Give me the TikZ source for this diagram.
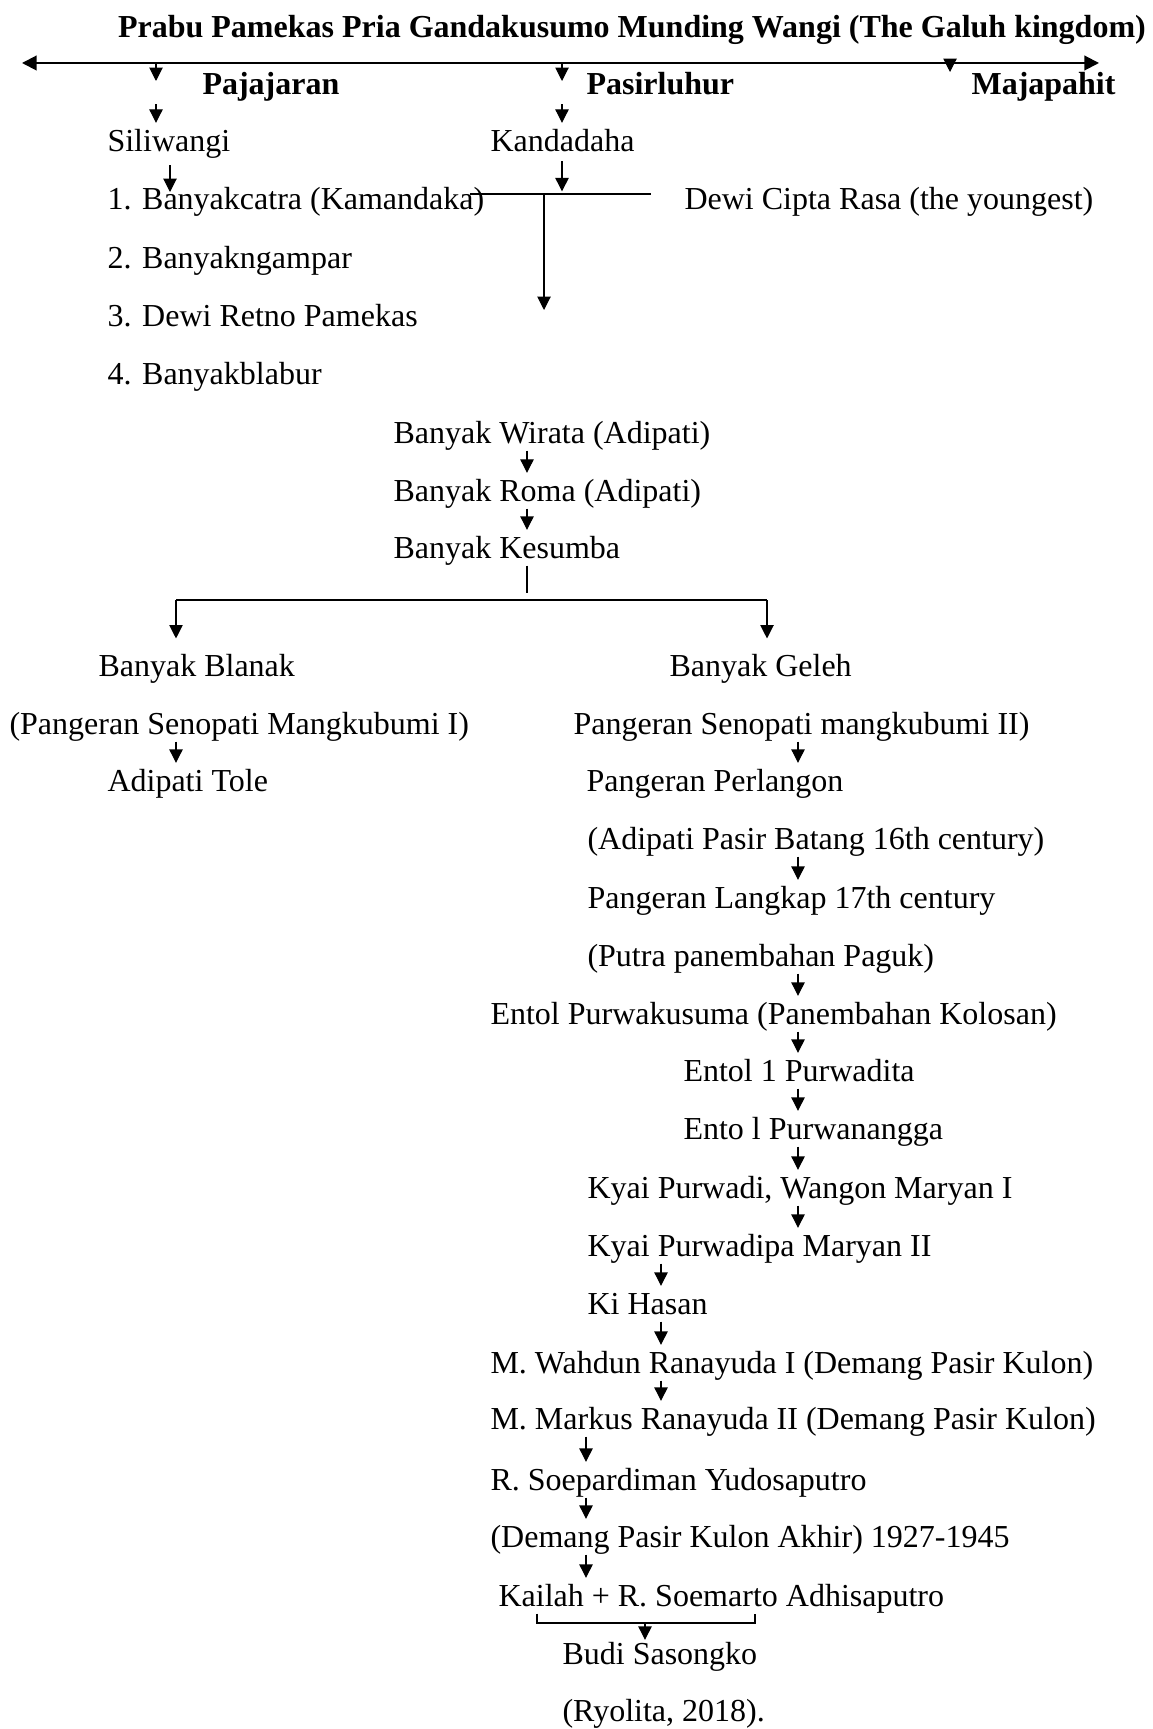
\documentclass[tikz,border=0pt]{standalone}
\usepackage{fontspec}
\setmainfont{Liberation Serif}
\usetikzlibrary{arrows.meta}

\begin{document}
\begin{tikzpicture}[x=0.375pt,y=-0.375pt,
    every node/.style={font=\fontsize{12pt}{14pt}\selectfont},
    txt/.style={anchor=west,inner sep=0pt,text height=8pt,text depth=2.5pt,yshift=-1.5pt},
    head/.style={txt,font=\fontsize{12pt}{14pt}\selectfont\bfseries},
    line/.style={line width=0.4pt},
    arr/.style={line width=0.4pt,-{Triangle[length=5pt,width=5pt]},shorten >=2.5pt}]

    \useasboundingbox (0,0) rectangle (1152,1729);

    \node[head,anchor=center] (title) at (632,26) {Prabu Pamekas Pria Gandakusumo Munding Wangi (The Galuh kingdom)};

    \coordinate (lineL) at (22,63);
    \coordinate (lineR) at (1099,63);
    \draw[line width=0.75pt,{Triangle[length=5.5pt,width=5.5pt]}-{Triangle[length=5.5pt,width=5.5pt]}] (lineL) -- (lineR);

    \node[head] (pajajaran) at (202,83) {Pajajaran};
    \node[head] (pasirluhur) at (586,83) {Pasirluhur};
    \node[head] (majapahit) at (971,83) {Majapahit};

    \coordinate (k1) at (156,81);
    \coordinate (k2) at (562,81);
    \coordinate (k3) at (950,72);
    \draw[arr,shorten >=0pt] (lineL -| k1) -- (k1);
    \draw[arr,shorten >=0pt] (lineL -| k2) -- (k2);
    \draw[arr,shorten >=0pt] (lineL -| k3) -- (k3);

    \node[txt] (siliwangi) at (107,140) {Siliwangi};
    \node[txt] (kandadaha) at (490,140) {Kandadaha};
    \draw[arr,shorten <=1pt] (pajajaran.south -| k1) -- (siliwangi.north -| k1);
    \draw[arr,shorten <=1pt] (pasirluhur.south -| k2) -- (kandadaha.north -| k2);

    \node[txt] (cat1) at (107,198) {1. Banyakcatra (Kamandaka)};
    \node[txt] (ngampar) at (107,257) {2. Banyakngampar};
    \node[txt] (retno) at (107,315) {3. Dewi Retno Pamekas};
    \node[txt] (blabur) at (107,373) {4. Banyakblabur};
    \node[txt] (ciptarasa) at (684,198) {Dewi Cipta Rasa (the youngest)};

    \coordinate (s1) at (170,192);
    \draw[arr,shorten <=2.5pt,shorten >=0pt] (siliwangi.south -| s1) -- (s1);

    \coordinate (mL) at (470,194);
    \coordinate (mR) at (651,194);
    \coordinate (mk) at (562,194);
    \coordinate (md) at (544,194);
    \coordinate (mdown) at (544,310);
    \draw[line] (mL) -- (mR);
    \draw[arr,shorten <=1pt,shorten >=1pt] (kandadaha.south -| mk) -- (mk);
    \draw[arr,shorten >=0pt] (md) -- (mdown);

    \node[txt] (wirata) at (393,432) {Banyak Wirata (Adipati)};
    \node[txt] (roma) at (393,490) {Banyak Roma (Adipati)};
    \node[txt] (kesumba) at (393,547) {Banyak Kesumba};
    \coordinate (kx) at (527,0);
    \draw[arr] (wirata.south -| kx) -- (roma.north -| kx);
    \draw[arr] (roma.south -| kx) -- (kesumba.north -| kx);

    \coordinate (bk) at (527,593);
    \coordinate (bl) at (176,600);
    \coordinate (br) at (767,600);
    \draw[line] (kesumba.south -| bk) -- (bk);
    \draw[line width=0.75pt] (bl) -- (br);

    \node[txt] (blanak) at (98,665) {Banyak Blanak};
    \node[txt] (geleh) at (669,665) {Banyak Geleh};
    \draw[arr,shorten >=6pt] (bl) -- (blanak.north -| bl);
    \draw[arr,shorten >=6pt] (br) -- (geleh.north -| br);

    \node[txt] (mangku1) at (9,723) {(Pangeran Senopati Mangkubumi I)};
    \node[txt] (mangku2) at (573,723) {Pangeran Senopati mangkubumi II)};
    \node[txt] (tole) at (107,780) {Adipati Tole};
    \node[txt] (perlangon) at (586,780) {Pangeran Perlangon};
    \coordinate (gx) at (798,0);
    \draw[arr] (mangku1.south -| bl) -- (tole.north -| bl);
    \draw[arr] (mangku2.south -| gx) -- (perlangon.north -| gx);

    \node[txt] (batang) at (587,838) {(Adipati Pasir Batang 16th century)};
    \node[txt] (langkap) at (587,897) {Pangeran Langkap 17th century};
    \node[txt] (paguk) at (587,955) {(Putra panembahan Paguk)};
    \node[txt] (purwakusuma) at (490,1013) {Entol Purwakusuma (Panembahan Kolosan)};
    \node[txt] (purwadita) at (683,1070) {Entol 1 Purwadita};
    \node[txt] (purwanangga) at (683,1128) {Ento l Purwanangga};
    \node[txt] (wangon) at (587,1187) {Kyai Purwadi, Wangon Maryan I};
    \node[txt] (maryan) at (587,1245) {Kyai Purwadipa Maryan II};
    \draw[arr] (batang.south -| gx) -- (langkap.north -| gx);
    \draw[arr] (paguk.south -| gx) -- (purwakusuma.north -| gx);
    \draw[arr] (purwakusuma.south -| gx) -- (purwadita.north -| gx);
    \draw[arr] (purwadita.south -| gx) -- (purwanangga.north -| gx);
    \draw[arr] (purwanangga.south -| gx) -- (wangon.north -| gx);
    \draw[arr] (wangon.south -| gx) -- (maryan.north -| gx);

    \node[txt] (hasan) at (587,1303) {Ki Hasan};
    \node[txt] (wahdun) at (490,1362) {M. Wahdun Ranayuda I (Demang Pasir Kulon)};
    \node[txt] (markus) at (490,1418) {M. Markus Ranayuda II (Demang Pasir Kulon)};
    \coordinate (hx) at (661,0);
    \draw[arr] (maryan.south -| hx) -- (hasan.north -| hx);
    \draw[arr] (hasan.south -| hx) -- (wahdun.north -| hx);
    \draw[arr] (wahdun.south -| hx) -- (markus.north -| hx);

    \node[txt] (soepardiman) at (490,1479) {R. Soepardiman Yudosaputro};
    \node[txt] (demang) at (490,1536) {(Demang Pasir Kulon Akhir) 1927-1945};
    \node[txt] (kailah) at (498,1595) {Kailah + R. Soemarto Adhisaputro};
    \coordinate (dx) at (586,0);
    \draw[arr] (markus.south -| dx) -- (soepardiman.north -| dx);
    \draw[arr] (soepardiman.south -| dx) -- (demang.north -| dx);
    \draw[arr] (demang.south -| dx) -- (kailah.north -| dx);

    \node[txt] (budi) at (562,1653) {Budi Sasongko};
    \node[txt] (ryolita) at (562,1710) {(Ryolita, 2018).};
    \coordinate (kl) at (537,1623);
    \coordinate (kr) at (755,1623);
    \coordinate (kb) at (645,1623);
    \draw[line] (kailah.south -| kl) -- (kl) -- (kr) -- (kailah.south -| kr);
    \draw[arr,shorten >=1pt] (kb) -- (budi.north -| kb);

\end{tikzpicture}
\end{document}
